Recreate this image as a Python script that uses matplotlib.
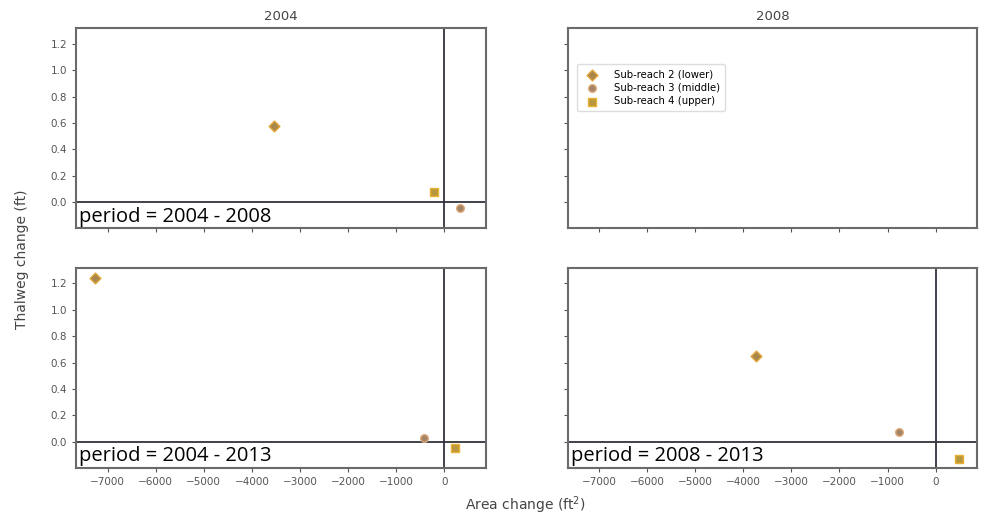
import matplotlib.pyplot as plt

# area change (ft^2) and thalweg change (ft) per sub-reach, per period
reaches = ["Sub-reach 2 (lower)", "Sub-reach 3 (middle)", "Sub-reach 4 (upper)"]
markers = ["D", "o", "s"]
faces = ["#a8874c", "#a58466", "#b8973e"]
edges = ["#e2a53a", "#ddaa78", "#eab233"]

area_04_08 = [-3540, 330, -207]
thalweg_04_08 = [0.58, -0.045, 0.075]

area_04_13 = [-7270, -414, 228]
thalweg_04_13 = [1.24, 0.03, -0.045]

area_08_13 = [-3727, -766, 476]
thalweg_08_13 = [0.65, 0.075, -0.13]

start_years = ["2004", "2008"]
end_years = ["2008", "2013"]

panels = {
    (0, 0): ("period = 2004 - 2008", area_04_08, thalweg_04_08),
    (1, 0): ("period = 2004 - 2013", area_04_13, thalweg_04_13),
    (1, 1): ("period = 2008 - 2013", area_08_13, thalweg_08_13),
}

spine_col = "#6a6a6a"
tick_col = "#555555"

fig, axes = plt.subplots(2, 2, figsize=(9.85, 5.18), dpi=100, sharex=True, sharey=True)
fig.subplots_adjust(left=0.0772, right=0.992, top=0.946, bottom=0.0965, wspace=0.2, hspace=0.195)

for (r, c), (label, xs, ys) in panels.items():
    ax = axes[r, c]
    ax.axhline(0, color="#33333f", lw=1.3, zorder=1)
    ax.axvline(0, color="#33333f", lw=1.3, zorder=1)
    for i, name in enumerate(reaches):
        ax.scatter(xs[i], ys[i], marker=markers[i], s=30, facecolor=faces[i],
                   edgecolor=edges[i], linewidth=1.0, zorder=3, label=name)
    ax.text(0.008, 0.033, label, transform=ax.transAxes, fontsize=14.5,
            family="Open Sans", va="baseline", ha="left", color="black")

for ax in axes.flat:
    for sp in ax.spines.values():
        sp.set_color(spine_col)
        sp.set_linewidth(1.5)
    ax.tick_params(colors=tick_col, labelsize=7.5, length=3, width=0.8)

axes[0, 0].set_ylim(-0.2, 1.32)
axes[0, 0].set_yticks([0.0, 0.2, 0.4, 0.6, 0.8, 1.0, 1.2])
axes[0, 0].set_xlim(-7657, 863)
axes[0, 0].set_xticks(range(-7000, 1, 1000))

for c, yr in enumerate(start_years):
    axes[0, c].set_title(yr, fontsize=9.5, color="#444444", pad=6)
# row titles sit in the right margin
for r, yr in enumerate(end_years):
    axes[r, 1].text(1.008, 0.5, yr, transform=axes[r, 1].transAxes, rotation=270,
                    fontsize=9.5, color="#444444", va="center", ha="left")

# legend lives in the empty panel
handles, labels = axes[0, 0].get_legend_handles_labels()
axes[0, 1].legend(handles, labels, loc="upper left", bbox_to_anchor=(0.01, 0.845),
                  fontsize=7.3, frameon=True, edgecolor="#dddddd", framealpha=1,
                  handletextpad=1.2, borderpad=0.5, labelspacing=0.35)

fig.text(0.022, 0.5, "Thalweg change (ft)", rotation=90, va="center", ha="center",
         fontsize=10, color="#444444")
fig.text(0.533, 0.025, "Area change (ft$^2$)", va="center", ha="center",
         fontsize=10, color="#444444")

fig.savefig("out.png", dpi=100)
